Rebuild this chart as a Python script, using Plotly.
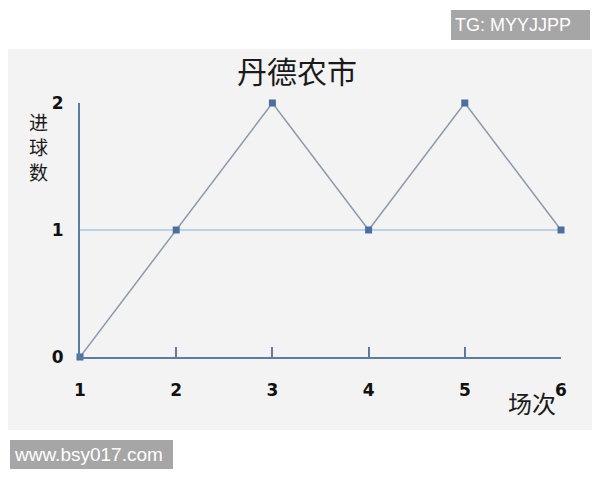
import plotly.graph_objects as go

# 场次 / 进球数
matches = [1, 2, 3, 4, 5, 6]
goals = [0, 1, 2, 1, 2, 1]
y_ticks = [0, 1, 2]

title_text = "丹德农市"
x_title = "场次"
y_title = "进球数"

# the page has an 8px body margin, so positions below are shifted by that
fig = go.Figure()

fig.add_trace(go.Scatter(
    x=matches, y=goals, mode="lines+markers",
    line=dict(color="#8b9aac", width=1.5),
    marker=dict(symbol="square", size=7, color="#4b6f9e"),
    cliponaxis=False, showlegend=False,
))

# gray panel behind the chart
fig.add_shape(type="rect", xref="paper", yref="paper",
              x0=-0.2, x1=1.2, y0=-0.287, y1=1.213,
              fillcolor="#f3f3f3", line_width=0, layer="below")

annots = [
    dict(text=title_text, x=0.451, y=1.130,
         font=dict(size=30, color="#1a1a1a")),
    dict(text=x_title, x=0.940, y=-0.181,
         font=dict(size=24, color="#1a1a1a")),
    dict(text="TG: MYYJJPP", x=0.916, y=1.307, width=131, height=22,
         align="left", bgcolor="#a6a6a6", borderpad=4, borderwidth=0,
         font=dict(family="Liberation Sans, Arial", size=18, color="white")),
    dict(text="www.bsy017.com", x=0.024, y=-0.384, width=155, height=21,
         align="left", bgcolor="#a6a6a6", borderpad=4, borderwidth=0,
         font=dict(family="Liberation Sans, Arial", size=19, color="white")),
]
# vertical axis title, one character per line
for ch, yy in zip(y_title, [0.929, 0.829, 0.729]):
    annots.append(dict(text=ch, x=-0.087, y=yy,
                       font=dict(size=19, color="#1a1a1a")))

for a in annots:
    a.update(xref="paper", yref="paper", xanchor="center", yanchor="middle",
             showarrow=False)

fig.update_layout(
    width=600, height=480,
    margin=dict(l=72, r=47, t=95, b=131),
    paper_bgcolor="white", plot_bgcolor="white",
    font=dict(family="Noto Sans CJK SC, DejaVu Sans", color="#111111"),
    annotations=annots,
)

fig.update_xaxes(
    range=[1, 6], tickvals=matches, showgrid=False, zeroline=False,
    showline=True, linecolor="#5a7ca4", linewidth=2,
    ticks="inside", ticklen=10, tickcolor="#5a7ca4", tickwidth=1.5,
    ticklabelstandoff=17,
    tickfont=dict(family="DejaVu Sans", size=17, color="#111111", weight="bold"),
)
fig.update_yaxes(
    range=[0, 2], tickvals=y_ticks, showgrid=True, gridcolor="#bcd1e4", gridwidth=1.5,
    zeroline=False, showline=True, linecolor="#5a7ca4", linewidth=2,
    ticks="", ticklabelstandoff=11,
    tickfont=dict(family="DejaVu Sans", size=17, color="#111111", weight="bold"),
)

fig.write_html("out.html")
